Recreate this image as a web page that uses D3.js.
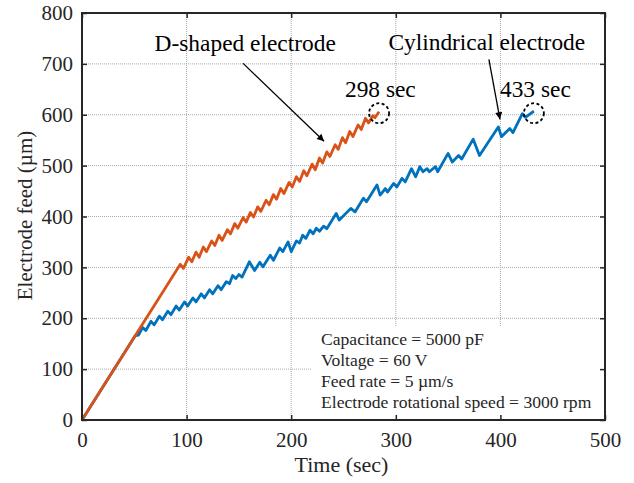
<!DOCTYPE html>
<html>
<head>
<meta charset="utf-8">
<script src="https://cdn.jsdelivr.net/npm/d3@7"></script>
<style>
  body { margin: 0; background: #fff; }
  text { font-family: "Liberation Serif", "Times New Roman", serif; fill: #262626; }
</style>
</head>
<body>
<div id="chart"></div>
<script>
// Electrode feed vs time for two electrode shapes

// Axis ticks
const xTicks = [0, 100, 200, 300, 400, 500];
const yTicks = [0, 100, 200, 300, 400, 500, 600, 700, 800];

// D-shaped electrode: [time (sec), feed (um)]
const dShapedFeed = [
    [0, 0], [94, 306], [97, 298], [102, 320], [105, 311], [109, 330], [112, 320],
    [116, 340], [119, 331], [124, 352], [127, 343], [131, 363], [134, 353],
    [139, 374], [142, 366], [146, 386], [149, 377], [154, 398], [157, 389],
    [161, 408], [164, 399], [168, 419], [171, 410], [176, 432], [179, 423],
    [183, 443], [186, 434], [190, 455], [193, 445], [198, 467], [201, 458],
    [205, 478], [208, 469], [212, 490], [215, 480], [220, 503], [223, 492],
    [227, 515], [230, 505], [234, 527], [237, 518], [242, 541], [245, 532],
    [249, 555], [252, 545], [256, 567], [259, 557], [264, 580], [267, 571],
    [271, 593], [274, 584], [278, 598], [280, 594], [284, 606]
];

// Cylindrical electrode: [time (sec), feed (um)]
const cylindricalFeed = [
    [0, 0], [51, 166], [54, 167], [58, 182], [61, 176], [66, 194], [69, 187], [74, 204],
    [77, 197], [82, 214], [85, 207], [90, 224], [93, 216], [98, 232], [101, 224],
    [106, 240], [109, 232], [114, 248], [117, 240], [122, 256], [125, 248],
    [130, 264], [133, 256], [138, 272], [141, 268], [144, 284], [147, 278],
    [150, 286], [153, 281], [160, 311], [165, 294], [170, 310], [173, 301],
    [180, 324], [183, 314], [189, 338], [192, 331], [197, 350], [200, 331],
    [205, 352], [208, 348], [211, 363], [214, 357], [218, 373], [221, 366],
    [224, 377], [227, 371], [231, 381], [234, 376], [243, 406], [246, 393],
    [257, 416], [261, 409], [269, 436], [272, 429], [282, 462], [285, 442],
    [290, 455], [292, 448], [298, 465], [301, 458], [306, 475], [309, 468],
    [315, 494], [319, 478], [323, 498], [326, 488], [330, 494], [332, 488],
    [338, 498], [340, 488], [350, 524], [354, 507], [360, 520], [363, 513],
    [374, 552], [380, 520], [398, 576], [401, 557], [409, 573], [412, 565],
    [421, 602], [424, 595], [432, 607]
];

// Test conditions
const conditions = [
    "Capacitance = 5000 pF",
    "Voltage = 60 V",
    "Feed rate = 5 \u00b5m/s",
    "Electrode rotational speed = 3000 rpm"
];

const W = 634, H = 483;
const margin = {top: 13, right: 29, bottom: 63, left: 82},
    width = W - margin.left - margin.right,
    height = H - margin.top - margin.bottom;

const svg = d3.select("#chart")
    .append("svg")
        .attr("width", W)
        .attr("height", H)
    .append("g")
        .attr("transform", `translate(${margin.left},${margin.top})`);

const x = d3.scaleLinear().domain([0, 500]).range([0, width]);
const y = d3.scaleLinear().domain([0, 800]).range([height, 0]);

// Grid
const grid = svg.append("g").attr("class", "grid");
grid.selectAll(".gx").data(xTicks.slice(1, -1)).join("line")
    .attr("x1", d => x(d)).attr("x2", d => x(d))
    .attr("y1", 0).attr("y2", height)
    .attr("stroke", "#a8a8a8").attr("stroke-width", 1)
    .attr("stroke-dasharray", "1,1");
grid.selectAll(".gy").data(yTicks.slice(1, -1)).join("line")
    .attr("x1", 0).attr("x2", width)
    .attr("y1", d => y(d)).attr("y2", d => y(d))
    .attr("stroke", "#a8a8a8").attr("stroke-width", 1)
    .attr("stroke-dasharray", "1,1");

// Lines
const line = d3.line().x(d => x(d[0])).y(d => y(d[1]));
svg.append("path").datum(cylindricalFeed)
    .attr("fill", "none").attr("stroke", "#0072BD")
    .attr("stroke-width", 2.8).attr("stroke-linejoin", "round")
    .attr("d", line);
svg.append("path").datum(dShapedFeed)
    .attr("fill", "none").attr("stroke", "#D95319")
    .attr("stroke-width", 2.8).attr("stroke-linejoin", "round")
    .attr("d", line);

// Condition box (covers grid)
svg.append("rect")
    .attr("x", x(220)).attr("y", y(185))
    .attr("width", x(500) - x(220)).attr("height", y(0) - y(185))
    .attr("fill", "#fff");
svg.append("g").selectAll("text").data(conditions).join("text")
    .attr("x", x(228.5))
    .attr("y", (d, i) => y(148) + i * 21)
    .style("font-size", "17.6px")
    .text(d => d);

// Axes (box with inward ticks)
const tickLen = 5;
const axisColor = "#262626";
svg.append("g")
    .attr("transform", `translate(0,${height})`)
    .call(d3.axisBottom(x).tickValues(xTicks).tickSize(-tickLen).tickPadding(12))
    .call(g => g.select(".domain").remove());
svg.append("g")
    .call(d3.axisTop(x).tickValues(xTicks).tickSize(-tickLen).tickFormat(""))
    .call(g => g.select(".domain").remove());
svg.append("g")
    .call(d3.axisLeft(y).tickValues(yTicks).tickSize(-tickLen).tickPadding(9))
    .call(g => g.select(".domain").remove());
svg.append("g")
    .attr("transform", `translate(${width},0)`)
    .call(d3.axisRight(y).tickValues(yTicks).tickSize(-tickLen).tickFormat(""))
    .call(g => g.select(".domain").remove());
svg.selectAll(".tick line").attr("stroke", axisColor).attr("stroke-width", 1.5);
svg.selectAll(".tick text")
    .style("font-size", "21px")
    .style("font-family", "'Liberation Serif', 'Times New Roman', serif")
    .attr("fill", axisColor);

svg.append("rect")
    .attr("width", width).attr("height", height)
    .attr("fill", "none").attr("stroke", axisColor).attr("stroke-width", 2);

// Axis labels
svg.append("text")
    .attr("x", width / 2 - 2)
    .attr("y", height + 52)
    .attr("text-anchor", "middle")
    .style("font-size", "22px")
    .text("Time (sec)");
svg.append("text")
    .attr("transform", "rotate(-90)")
    .attr("x", -height / 2 + 1)
    .attr("y", -50)
    .attr("text-anchor", "middle")
    .style("font-size", "21px")
    .text("Electrode feed (\u00b5m)");

// Annotations
svg.append("defs").append("marker")
    .attr("id", "arrow")
    .attr("viewBox", "0 0 10 10")
    .attr("refX", 10).attr("refY", 5)
    .attr("markerWidth", 12).attr("markerHeight", 7)
    .attr("markerUnits", "userSpaceOnUse")
    .attr("orient", "auto")
    .append("path").attr("d", "M0,0 L10,5 L0,10 z").attr("fill", "#000");

const arrows = [
    {from: [154, 701], to: [231.4, 548]},
    {from: [389, 709], to: [399.6, 591]}
];
svg.selectAll(".arrow").data(arrows).join("line")
    .attr("x1", d => x(d.from[0])).attr("y1", d => y(d.from[1]))
    .attr("x2", d => x(d.to[0])).attr("y2", d => y(d.to[1]))
    .attr("stroke", "#000").attr("stroke-width", 1.3)
    .attr("marker-end", "url(#arrow)");

const labels = [
    {t: 156, v: 726, text: "D-shaped electrode", anchor: "middle"},
    {t: 387, v: 728, text: "Cylindrical electrode", anchor: "middle"},
    {t: 251.4, v: 634, text: "298 sec", anchor: "start"},
    {t: 399.6, v: 634, text: "433 sec", anchor: "start"}
];
svg.selectAll(".ann").data(labels).join("text")
    .attr("x", d => x(d.t)).attr("y", d => y(d.v))
    .attr("text-anchor", d => d.anchor)
    .style("font-size", "23.4px")
    .style("fill", "#000")
    .text(d => d.text);

const endMarks = [[284, 603], [432, 603]];
svg.selectAll(".endmark").data(endMarks).join("circle")
    .attr("cx", d => x(d[0])).attr("cy", d => y(d[1]))
    .attr("r", 10)
    .attr("fill", "none").attr("stroke", "#000")
    .attr("stroke-width", 1.8).attr("stroke-dasharray", "3,2.5");
</script>
</body>
</html>
